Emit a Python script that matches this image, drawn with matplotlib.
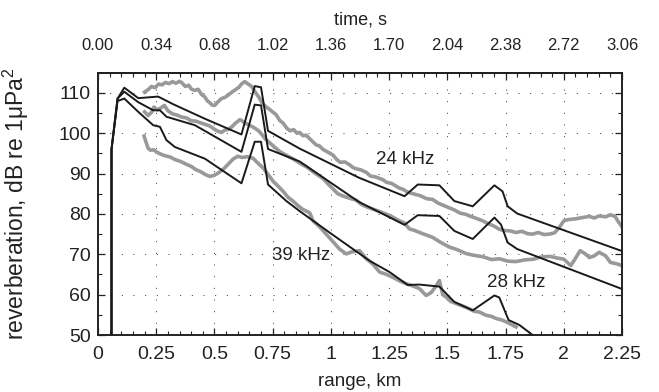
import matplotlib
matplotlib.use("Agg")
import matplotlib.pyplot as plt
from matplotlib.ticker import MultipleLocator, FixedLocator, FormatStrFormatter

plt.rcParams["font.family"] = ["Liberation Sans", "DejaVu Sans"]
plt.rcParams["mathtext.default"] = "regular"

MODEL_BLACK = "#1a1a1a"
DATA_GRAY = "#999999"

# model curves (black)
model_24_x = [0.058, 0.058, 0.084, 0.113, 0.173, 0.258, 0.323, 0.459, 0.616, 0.673, 0.700, 0.730,
              0.866, 1.120, 1.316, 1.373, 1.466, 1.530, 1.609, 1.702, 1.737, 1.759, 1.800, 2.250]
model_24_y = [50.0, 96.0, 108.6, 111.3, 108.7, 109.1, 107.2, 103.6, 99.7, 111.7, 111.4, 100.6,
              96.2, 89.0, 84.4, 87.3, 87.1, 83.2, 81.9, 87.1, 85.6, 81.9, 80.1, 70.8]

model_28_x = [0.058, 0.058, 0.084, 0.113, 0.173, 0.237, 0.266, 0.294, 0.416, 0.616, 0.673, 0.700,
              0.730, 0.866, 1.120, 1.316, 1.373, 1.466, 1.530, 1.609, 1.702, 1.730, 1.759, 1.800, 2.250]
model_28_y = [50.0, 96.0, 108.6, 110.3, 107.7, 105.7, 105.7, 104.1, 102.0, 95.4, 107.1, 106.9,
              96.1, 93.0, 83.0, 77.3, 79.7, 79.5, 75.8, 73.8, 79.1, 77.4, 72.9, 71.3, 61.4]

model_39_x = [0.058, 0.058, 0.084, 0.113, 0.173, 0.237, 0.266, 0.294, 0.330, 0.459, 0.616, 0.673,
              0.700, 0.730, 0.809, 0.866, 0.994, 1.166, 1.252, 1.330, 1.380, 1.466, 1.530, 1.609,
              1.702, 1.723, 1.763, 1.809, 1.866, 1.950]
model_39_y = [50.0, 96.0, 108.0, 108.6, 105.3, 102.0, 101.6, 98.3, 96.6, 93.7, 87.6, 97.9,
              97.9, 87.3, 83.2, 80.7, 75.4, 68.4, 65.6, 62.4, 62.5, 62.0, 58.2, 56.1,
              59.8, 59.3, 53.7, 52.5, 50.0, 47.0]

# measured curves (gray)
meas_24_x = [0.200, 0.215, 0.230, 0.245, 0.260, 0.275, 0.290, 0.305, 0.320, 0.335, 0.350, 0.360,
             0.375, 0.390, 0.400, 0.415, 0.430, 0.445, 0.459, 0.470, 0.480, 0.490, 0.501, 0.515,
             0.530, 0.545, 0.560, 0.575, 0.590, 0.605, 0.616, 0.630, 0.645, 0.660, 0.675, 0.690,
             0.705, 0.720, 0.735, 0.750, 0.765, 0.780, 0.795, 0.810, 0.825, 0.840, 0.855, 0.866,
             0.880, 0.894, 0.910, 0.937, 0.950, 0.966, 0.985, 1.009, 1.025, 1.040, 1.060, 1.080,
             1.095, 1.109, 1.130, 1.152, 1.170, 1.190, 1.223, 1.240, 1.260, 1.294, 1.310, 1.330,
             1.366, 1.385, 1.410, 1.437, 1.460, 1.480, 1.509, 1.530, 1.555, 1.580, 1.600, 1.625,
             1.652, 1.675, 1.700, 1.723, 1.745, 1.770, 1.795, 1.820, 1.845, 1.866, 1.890, 1.915,
             1.937, 1.960, 1.980, 2.000, 2.020, 2.050, 2.080, 2.110, 2.130, 2.152, 2.180, 2.200,
             2.220, 2.235, 2.250]
meas_24_y = [110.2, 110.8, 111.6, 111.3, 112.2, 112.0, 112.6, 112.3, 112.8, 112.4, 112.9, 112.5,
             111.6, 111.9, 111.0, 110.6, 110.9, 109.6, 109.0, 108.0, 107.6, 107.0, 106.9, 107.8,
             108.6, 108.9, 109.5, 110.2, 110.8, 111.4, 112.2, 112.8, 112.2, 111.6, 110.2, 109.0,
             107.5, 106.6, 106.0, 105.3, 104.6, 103.2, 102.5, 101.3, 100.6, 100.9, 100.0, 100.2,
             99.4, 99.5, 98.6, 97.1, 96.9, 96.0, 95.4, 94.6, 93.5, 92.8, 92.9, 92.2,
             91.5, 91.2, 90.9, 90.3, 89.4, 89.2, 88.5, 87.8, 87.6, 86.4, 86.1, 85.4,
             84.8, 84.5, 83.8, 83.6, 82.7, 82.2, 81.5, 81.0, 80.2, 79.9, 79.4, 78.9,
             78.3, 77.6, 77.0, 76.2, 75.9, 75.8, 75.4, 75.7, 75.1, 75.0, 75.4, 74.9,
             75.0, 75.3, 76.6, 78.3, 78.6, 78.8, 79.1, 79.4, 79.0, 79.5, 79.3, 79.8,
             79.4, 78.0, 76.8]

meas_28_x = [0.200, 0.215, 0.230, 0.240, 0.255, 0.270, 0.285, 0.300, 0.320, 0.340, 0.360, 0.380,
             0.400, 0.420, 0.440, 0.460, 0.480, 0.500, 0.515, 0.530, 0.545, 0.560, 0.575, 0.590,
             0.610, 0.630, 0.650, 0.670, 0.690, 0.705, 0.720, 0.750, 0.780, 0.800, 0.820, 0.845,
             0.866, 0.900, 0.920, 0.937, 0.966, 0.985, 1.009, 1.030, 1.050, 1.080, 1.109, 1.130,
             1.152, 1.190, 1.223, 1.260, 1.294, 1.315, 1.337, 1.360, 1.390, 1.437, 1.470, 1.509,
             1.540, 1.580, 1.610, 1.652, 1.690, 1.723, 1.760, 1.795, 1.830, 1.870, 1.900, 1.940,
             1.970, 2.000, 2.030, 2.050, 2.070, 2.090, 2.110, 2.130, 2.152, 2.180, 2.200, 2.230,
             2.250]
meas_28_y = [105.3, 104.4, 105.2, 106.5, 105.8, 106.3, 106.9, 105.6, 104.8, 104.5, 104.0, 103.8,
             103.1, 103.0, 102.6, 102.2, 101.8, 101.0, 100.5, 100.2, 100.8, 101.0, 101.6, 102.5,
             103.4, 102.6, 102.0, 101.4, 100.6, 99.6, 98.5, 97.0, 95.5, 94.8, 94.2, 93.4,
             92.6, 91.5, 90.6, 89.9, 88.8, 87.6, 86.2, 85.0, 84.5, 83.9, 83.4, 82.4,
             81.8, 81.0, 80.3, 79.4, 78.3, 77.8, 76.3, 75.9, 75.2, 74.2, 73.0, 71.8,
             71.2, 70.2, 69.8, 69.4, 68.7, 68.9, 68.3, 68.2, 68.6, 68.8, 69.3, 69.5,
             69.1, 68.8, 67.2, 69.0, 70.9, 70.2, 69.2, 69.6, 70.5, 69.6, 68.0, 67.6,
             67.2]

meas_39_x = [0.198, 0.205, 0.215, 0.225, 0.240, 0.250, 0.270, 0.290, 0.310, 0.330, 0.355, 0.380,
             0.400, 0.420, 0.440, 0.460, 0.480, 0.500, 0.520, 0.540, 0.560, 0.580, 0.600, 0.620,
             0.640, 0.666, 0.690, 0.709, 0.730, 0.752, 0.775, 0.795, 0.815, 0.837, 0.860, 0.880,
             0.909, 0.923, 0.950, 0.980, 1.005, 1.037, 1.066, 1.090, 1.123, 1.150, 1.180, 1.209,
             1.240, 1.266, 1.295, 1.323, 1.350, 1.380, 1.409, 1.430, 1.450, 1.466, 1.480, 1.495,
             1.515, 1.537, 1.565, 1.594, 1.615, 1.637, 1.666, 1.690, 1.709, 1.730, 1.751, 1.775,
             1.795]
meas_39_y = [99.3, 98.0, 96.3, 95.8, 95.9, 95.4, 94.8, 94.4, 94.1, 93.5, 93.0, 92.3,
             91.8, 91.0, 90.5, 89.8, 89.3, 89.6, 90.3, 91.2, 92.4, 93.6, 94.3, 94.0,
             94.2, 93.8, 92.4, 91.4, 89.8, 88.1, 86.8, 85.6, 84.2, 83.2, 82.0, 81.1,
             80.3, 78.3, 76.9, 75.0, 73.4, 71.3, 70.1, 70.6, 70.9, 69.0, 67.6, 65.6,
             65.0, 64.3, 63.4, 62.7, 62.2, 61.5, 59.8, 60.5, 62.0, 63.5, 60.0, 59.4,
             58.3, 57.8, 57.2, 56.5, 55.9, 55.7, 54.9, 54.6, 54.1, 53.8, 53.3, 52.6,
             52.0]

x_ticks = [0, 0.25, 0.5, 0.75, 1, 1.25, 1.5, 1.75, 2, 2.25]
x_tick_labels = ["0", "0.25", "0.5", "0.75", "1", "1.25", "1.5", "1.75", "2", "2.25"]
y_ticks = [50, 60, 70, 80, 90, 100, 110]
time_ticks = [0.00, 0.34, 0.68, 1.02, 1.36, 1.70, 2.04, 2.38, 2.72, 3.06]
km_to_s = 3.06 / 2.25

labels = ["24 kHz", "28 kHz", "39 kHz"]
label_x = [1.32, 1.795, 0.87]
label_y = [93.4, 63.1, 69.7]


def main() -> None:
    fig = plt.figure(figsize=(6.59, 3.92), dpi=100)
    ax = fig.add_axes([0.1487, 0.1454, 0.7952, 0.669])

    for mx, my in [(meas_24_x, meas_24_y), (meas_28_x, meas_28_y), (meas_39_x, meas_39_y)]:
        ax.plot(mx, my, color=DATA_GRAY, lw=2.6, solid_joinstyle="round", zorder=2)
    for mx, my in [(model_24_x, model_24_y), (model_28_x, model_28_y), (model_39_x, model_39_y)]:
        ax.plot(mx, my, color=MODEL_BLACK, lw=1.4, zorder=3)

    for text, tx, ty in zip(labels, label_x, label_y):
        ax.text(tx, ty, text, fontsize=13.5, ha="center", va="center", color="#222222")

    ax.set_xlim(0, 2.25)
    ax.set_ylim(50, 115)
    ax.xaxis.set_major_locator(FixedLocator(x_ticks))
    ax.set_xticklabels(x_tick_labels)
    ax.xaxis.set_minor_locator(MultipleLocator(0.05))
    ax.yaxis.set_major_locator(FixedLocator(y_ticks))
    ax.yaxis.set_minor_locator(MultipleLocator(5))
    ax.grid(True, which="major", color="#333333", lw=0.7, linestyle=(0, (1, 11)))
    ax.tick_params(which="both", direction="in", top=False, right=True, labelsize=14,
                   color="#222222", labelcolor="#222222")
    ax.tick_params(which="major", length=5, width=0.9)
    ax.tick_params(which="minor", length=3, width=0.8)
    ax.tick_params(axis="x", pad=8)
    ax.tick_params(axis="y", pad=5)
    for spine in ax.spines.values():
        spine.set_linewidth(1.4)
        spine.set_color("#222222")

    ax.set_xlabel("range, km", fontsize=13.5, color="#222222", labelpad=7)
    ax.set_ylabel("reverberation, dB re 1μPa$^2$", fontsize=16.5, color="#222222")
    ax.yaxis.set_label_coords(-0.128, 0.5)

    top = ax.secondary_xaxis("top", functions=(lambda k: k * km_to_s, lambda t: t / km_to_s))
    top.xaxis.set_major_locator(FixedLocator(time_ticks))
    top.xaxis.set_major_formatter(FormatStrFormatter("%.2f"))
    top.xaxis.set_minor_locator(MultipleLocator(0.068))
    top.tick_params(which="both", direction="in", labelsize=12, color="#222222",
                    labelcolor="#222222", pad=14)
    top.tick_params(which="major", length=5, width=0.9)
    top.tick_params(which="minor", length=3, width=0.8)
    top.spines["top"].set_linewidth(1.4)
    top.set_xlabel("time, s", fontsize=13, color="#222222", labelpad=10)

    fig.savefig("out.png", dpi=100)
    plt.close(fig)


if __name__ == "__main__":
    main()
